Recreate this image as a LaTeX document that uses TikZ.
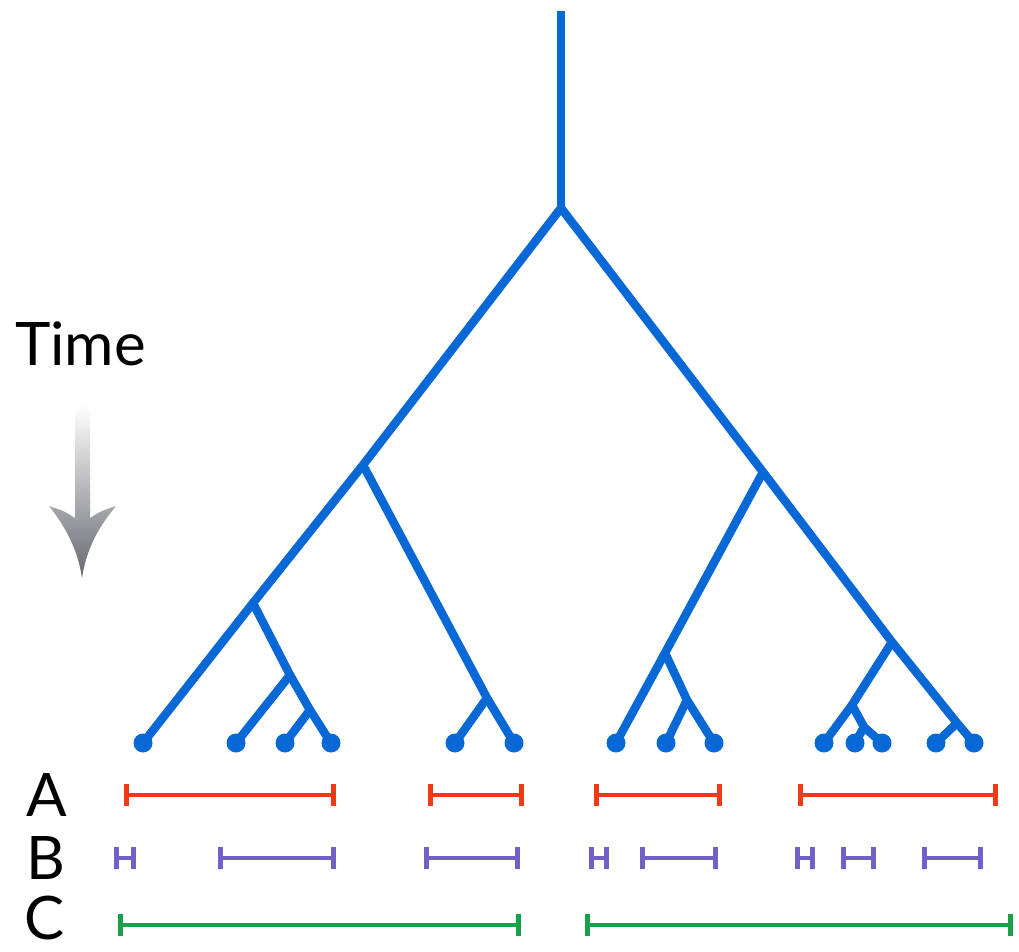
\documentclass[tikz,border=0pt]{standalone}
\usepackage{fontspec}
\setmainfont{Lato}
\usetikzlibrary{arrows.meta}
\definecolor{treeblue}{RGB}{8,104,214}
\definecolor{barred}{RGB}{240,58,22}
\definecolor{barpurple}{RGB}{112,96,200}
\definecolor{bargreen}{RGB}{24,160,74}
\definecolor{arrowgray}{RGB}{100,105,112}
\begin{document}
\begin{tikzpicture}[x=1pt,y=-1pt,
  branch/.style={draw=treeblue,line width=8.5pt,line join=round},
  leaf/.style={circle,fill=treeblue,inner sep=0pt,minimum size=19pt},
  span/.style={line width=4.8pt,{Bar[width=22pt,line width=4.8pt]}-{Bar[width=22pt,line width=4.8pt]}},
  lab/.style={font=\fontsize{60}{60}\selectfont,inner sep=0pt}]
\useasboundingbox (0,0) rectangle (1019,952);
% tree points
\coordinate (top) at (561,11);
\coordinate (r) at (561,208);
\coordinate (L) at (363,465);
\coordinate (R) at (763,472);
\coordinate (L1) at (253,603);
\coordinate (L2) at (290,675);
\coordinate (L3) at (310,710);
\coordinate (L4) at (487,698);
\coordinate (R1) at (665,653);
\coordinate (R2) at (687,700);
\coordinate (R3) at (892,642);
\coordinate (R4) at (852,705);
\coordinate (R5) at (864,727);
\coordinate (R6) at (957,723);
% leaves
\node[leaf] (l1) at (143,743) {};
\node[leaf] (l2) at (236,743) {};
\node[leaf] (l3) at (285,743) {};
\node[leaf] (l4) at (331,743) {};
\node[leaf] (l5) at (455,743) {};
\node[leaf] (l6) at (514,743) {};
\node[leaf] (l7) at (616,743) {};
\node[leaf] (l8) at (666,743) {};
\node[leaf] (l9) at (714,743) {};
\node[leaf] (l10) at (824,743) {};
\node[leaf] (l11) at (855,743) {};
\node[leaf] (l12) at (882,743) {};
\node[leaf] (l13) at (936,743) {};
\node[leaf] (l14) at (974,743) {};
% branches
\draw[branch] (top) -- (r);
\draw[branch] (r) -- (L) -- (L1) -- (l1.center);
\draw[branch] (L1) -- (L2) -- (L3) -- (l4.center);
\draw[branch] (L2) -- (l2.center);
\draw[branch] (L3) -- (l3.center);
\draw[branch] (L) -- (L4) -- (l6.center);
\draw[branch] (L4) -- (l5.center);
\draw[branch] (r) -- (R) -- (R3) -- (R6) -- (l14.center);
\draw[branch] (R6) -- (l13.center);
\draw[branch] (R3) -- (R4) -- (l10.center);
\draw[branch] (R4) -- (R5) -- (l12.center);
\draw[branch] (R5) -- (l11.center);
\draw[branch] (R) -- (R1) -- (l7.center);
\draw[branch] (R1) -- (R2) -- (l9.center);
\draw[branch] (R2) -- (l8.center);
% time label and arrow
\node[lab,anchor=base west] (time) at (15,365) {Time};
\shade[top color=white,bottom color=arrowgray,shading angle=0]
  (75,405) -- (75,518) .. controls (64,511) .. (49,506)
  .. controls (68,530) and (78,552) .. (82,578)
  .. controls (86,552) and (96,530) .. (116,506)
  .. controls (101,511) .. (90,518) -- (90,405) -- cycle;
% row labels
\node[lab] (A) at (47,795) {A};
\node[lab] (B) at (46,858) {B};
\node[lab] (C) at (45,918) {C};
% A spans
\coordinate (a1s) at (124,795); \coordinate (a1e) at (336,795);
\coordinate (a2s) at (428,795); \coordinate (a2e) at (524,795);
\coordinate (a3s) at (594,795); \coordinate (a3e) at (722,795);
\coordinate (a4s) at (798,795); \coordinate (a4e) at (998,795);
\draw[span,barred] (a1s) -- (a1e);
\draw[span,barred] (a2s) -- (a2e);
\draw[span,barred] (a3s) -- (a3e);
\draw[span,barred] (a4s) -- (a4e);
% B spans
\coordinate (b1s) at (114,858); \coordinate (b1e) at (136,858);
\coordinate (b2s) at (218,858); \coordinate (b2e) at (336,858);
\coordinate (b3s) at (424,858); \coordinate (b3e) at (520,858);
\coordinate (b4s) at (589,858); \coordinate (b4e) at (609,858);
\coordinate (b5s) at (640,858); \coordinate (b5e) at (718,858);
\coordinate (b6s) at (795,858); \coordinate (b6e) at (815,858);
\coordinate (b7s) at (841,858); \coordinate (b7e) at (876,858);
\coordinate (b8s) at (922,858); \coordinate (b8e) at (983,858);
\foreach \i in {1,...,8}{\draw[span,barpurple] (b\i s) -- (b\i e);}
% C spans
\coordinate (c1s) at (118,925); \coordinate (c1e) at (521,925);
\coordinate (c2s) at (585,925); \coordinate (c2e) at (1013,925);
\draw[span,bargreen] (c1s) -- (c1e);
\draw[span,bargreen] (c2s) -- (c2e);
\end{tikzpicture}
\end{document}
